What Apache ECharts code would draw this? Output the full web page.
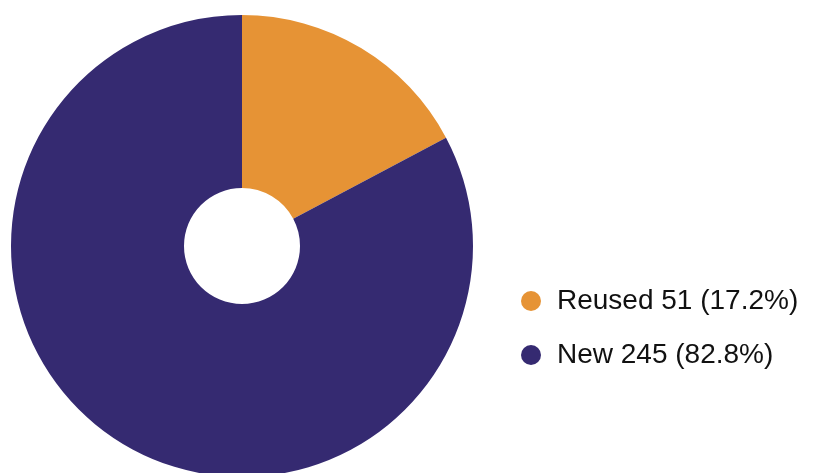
<!DOCTYPE html>
<html>
<head>
<meta charset="utf-8">
<script src="https://cdn.jsdelivr.net/npm/echarts@6/dist/echarts.min.js"></script>
<style>
  html, body { margin: 0; padding: 0; background: #fff; }
  #chart { width: 828px; height: 473px; }
</style>
</head>
<body>
<div id="chart"></div>
<script>
const CATEGORIES = ['Reused', 'New']
const VALUES = [51, 245]
const COLORS = ['#E69335', '#352A71']

const total = VALUES.reduce((a, b) => a + b, 0)
const chart = echarts.init(document.getElementById('chart'))
chart.setOption({
  animation: false,
  color: COLORS,
  legend: {
    orient: 'vertical',
    left: 521,
    top: 287,
    padding: 0,
    icon: 'circle',
    itemWidth: 20,
    itemHeight: 20,
    itemGap: 26,
    textStyle: {
      fontFamily: 'Liberation Sans',
      fontSize: 28,
      color: '#111',
      padding: [0, 0, 0, 11],
    },
    formatter: (name) => {
      const i = CATEGORIES.indexOf(name)
      return `${name} ${VALUES[i]} (${(VALUES[i] / total * 100).toFixed(1)}%)`
    },
  },
  series: [
    {
      type: 'pie',
      center: [242, 246],
      radius: [58, 231],
      startAngle: 90,
      clockwise: true,
      label: { show: false },
      labelLine: { show: false },
      data: CATEGORIES.map((name, i) => ({ name, value: VALUES[i] })),
    },
  ],
})
</script>
</body>
</html>
